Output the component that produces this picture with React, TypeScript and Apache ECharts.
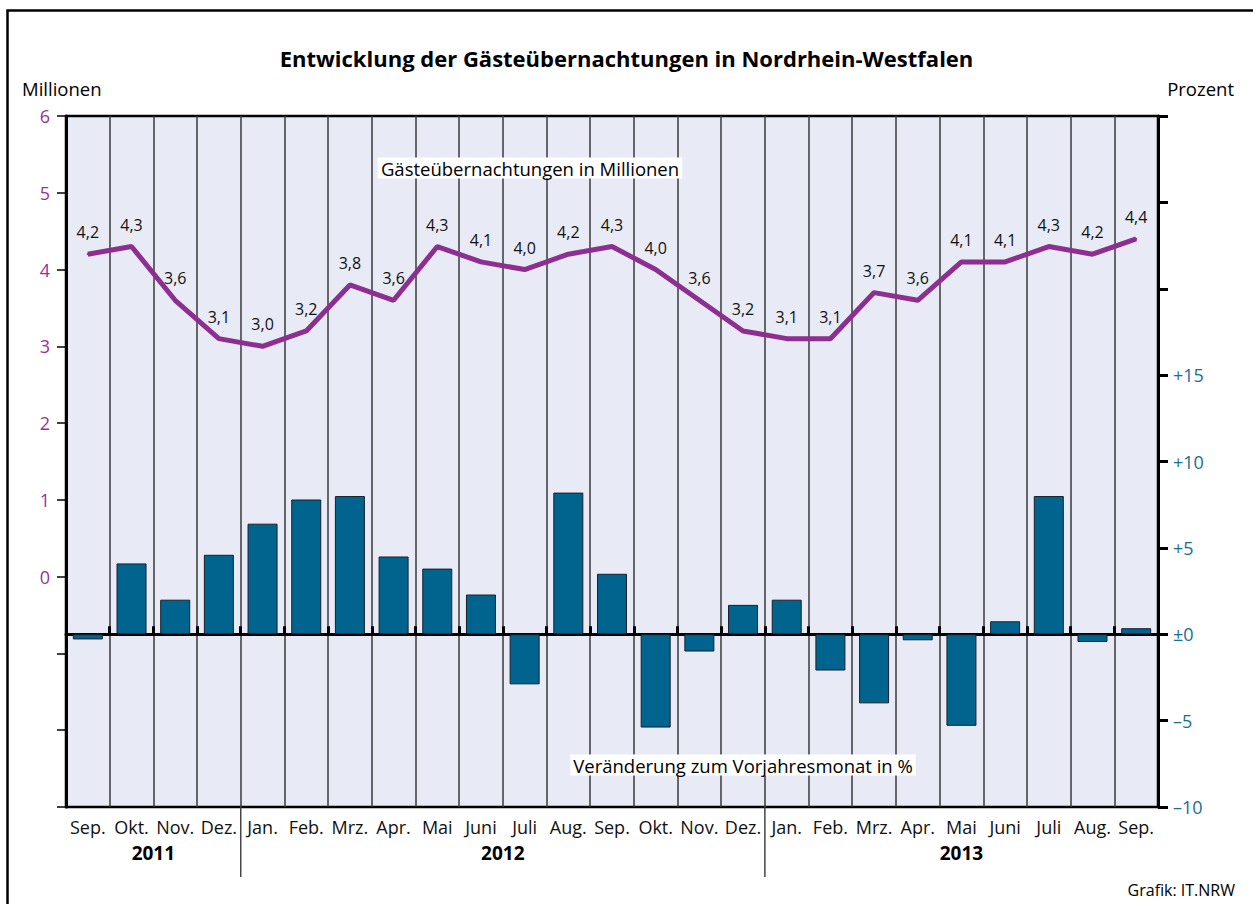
import React, { useEffect, useRef } from "react";
import * as echarts from "echarts";

const months = ["Sep.", "Okt.", "Nov.", "Dez.", "Jan.", "Feb.", "Mrz.", "Apr.", "Mai", "Juni", "Juli", "Aug.", "Sep.", "Okt.", "Nov.", "Dez.", "Jan.", "Feb.", "Mrz.", "Apr.", "Mai", "Juni", "Juli", "Aug.", "Sep."];
const nights = [4.2, 4.3, 3.6, 3.1, 3.0, 3.2, 3.8, 3.6, 4.3, 4.1, 4.0, 4.2, 4.3, 4.0, 3.6, 3.2, 3.1, 3.1, 3.7, 3.6, 4.1, 4.1, 4.3, 4.2, 4.4];
const change = [-0.3, 4.1, 2.0, 4.6, 6.4, 7.8, 8.0, 4.5, 3.8, 2.3, -2.9, 8.2, 3.5, -5.4, -1.0, 1.7, 2.0, -2.1, -4.0, -0.35, -5.3, 0.75, 8.0, -0.45, 0.35];
const years = [
  { label: "2011", from: 0, to: 4 },
  { label: "2012", from: 4, to: 16 },
  { label: "2013", from: 16, to: 25 },
];
const dividers = [4, 16];

const FONT = "'Open Sans', 'Noto Sans', sans-serif";
const W = 1253, H = 904;
const GL = 66, GT = 116, GR = 1158, GB = 807;

export default function App() {
  const ref = useRef<HTMLDivElement>(null);
  useEffect(() => {
    if (!ref.current) return;
    const chart = echarts.init(ref.current, null, { renderer: "svg" });
    const cw = (GR - GL) / months.length;
    const yearTexts = years.map((y) => ({
      type: "text",
      x: GL + ((y.from + y.to) / 2) * cw,
      y: 853,
      style: { text: y.label, font: `bold 19px ${FONT}`, fill: "#000", align: "center", verticalAlign: "middle" },
    }));
    const dividerLines = dividers.map((i) => ({
      type: "line",
      shape: { x1: GL + i * cw, y1: GB, x2: GL + i * cw, y2: GB + 70 },
      style: { stroke: "#444", lineWidth: 1.5 },
    }));
    chart.setOption({
      animation: false,
      backgroundColor: "#fff",
      textStyle: { fontFamily: FONT },
      title: {
        text: "Entwicklung der Gästeübernachtungen in Nordrhein-Westfalen",
        left: "center",
        top: 42,
        textStyle: { fontFamily: FONT, fontSize: 22, fontWeight: "bold", color: "#000" },
      },
      grid: {
        left: GL, top: GT, right: W - GR, bottom: H - GB,
        show: true, backgroundColor: "#e8eaf6", borderColor: "#000", borderWidth: 2.5,
      },
      xAxis: [
        {
          type: "category", data: months, position: "bottom",
          axisLine: { onZero: false, show: false },
          axisTick: { show: false },
          axisLabel: { interval: 0, fontSize: 18, color: "#111", margin: 11, fontFamily: FONT },
          splitLine: { show: true, interval: 0, lineStyle: { color: "#3a3a3a", width: 1.5 } },
        },
        {
          type: "category", data: months, position: "bottom",
          axisLine: { onZero: true, onZeroAxisIndex: 1, show: true, lineStyle: { color: "#000", width: 3 } },
          axisTick: { show: true, inside: true, length: 8, interval: 0, lineStyle: { color: "#000", width: 3 } },
          axisLabel: { show: false },
          splitLine: { show: false },
        },
      ],
      yAxis: [
        {
          type: "value", min: -3, max: 6, interval: 1, position: "left",
          axisLine: { show: true, lineStyle: { color: "#000", width: 3 } },
          axisTick: { show: true, length: 9, lineStyle: { color: "#000", width: 1.5 } },
          axisLabel: { fontSize: 18, color: "#96329a", margin: 16, fontFamily: FONT, formatter: (v: number) => (v >= 0 ? String(v) : "") },
          splitLine: { show: false },
        },
        {
          type: "value", min: -10, max: 30, interval: 5, position: "right",
          axisLine: { show: true, lineStyle: { color: "#000", width: 3 } },
          axisTick: { show: true, length: 10, lineStyle: { color: "#000", width: 3 } },
          axisLabel: {
            fontSize: 18, color: "#1a6e96", margin: 15, fontFamily: FONT,
            formatter: (v: number) => (v > 15 ? "" : v === 0 ? "±0" : v > 0 ? "+" + v : "–" + Math.abs(v)),
          },
          splitLine: { show: false },
        },
      ],
      series: [
        {
          type: "bar", data: change, yAxisIndex: 1, xAxisIndex: 0, barWidth: 30,
          itemStyle: { color: "#00648f", borderColor: "#15202a", borderWidth: 1 },
          z: 2,
        },
        {
          type: "line", data: nights, yAxisIndex: 0, xAxisIndex: 0,
          symbol: "circle", symbolSize: 2, showSymbol: true,
          itemStyle: { color: "#8d2f91" },
          lineStyle: { color: "#8d2f91", width: 5 },
          label: {
            show: true, position: "top", distance: 13, fontSize: 16, color: "#111", fontFamily: FONT,
            formatter: (p: any) => Number(p.value).toFixed(1).replace(".", ","),
          },
          z: 3,
        },
      ],
      graphic: [
        { type: "rect", left: 5, top: 8, shape: { width: W, height: H }, style: { fill: "none", stroke: "#000", lineWidth: 2.5 }, silent: true, z: -10 },
        { type: "text", x: 22, y: 88, style: { text: "Millionen", font: `18.5px ${FONT}`, fill: "#000", verticalAlign: "middle" } },
        { type: "text", x: 1234, y: 88, style: { text: "Prozent", font: `18.5px ${FONT}`, fill: "#000", align: "right", verticalAlign: "middle" } },
        {
          type: "text", x: 530, y: 168, z: 10,
          style: { text: "Gästeübernachtungen in Millionen", font: `18.5px ${FONT}`, fill: "#000", align: "center", verticalAlign: "middle", backgroundColor: "#fff", padding: [1, 3] },
        },
        {
          type: "text", x: 743, y: 765, z: 10,
          style: { text: "Veränderung zum Vorjahresmonat in %", font: `18.5px ${FONT}`, fill: "#000", align: "center", verticalAlign: "middle", backgroundColor: "#fff", padding: [1, 3] },
        },
        { type: "text", x: 1235, y: 890, style: { text: "Grafik: IT.NRW", font: `16px ${FONT}`, fill: "#000", align: "right", verticalAlign: "middle" } },
        ...dividerLines,
        ...yearTexts,
      ],
    });
    return () => chart.dispose();
  }, []);
  return <div ref={ref} style={{ position: "fixed", left: 0, top: 0, width: W, height: H }} />;
}
